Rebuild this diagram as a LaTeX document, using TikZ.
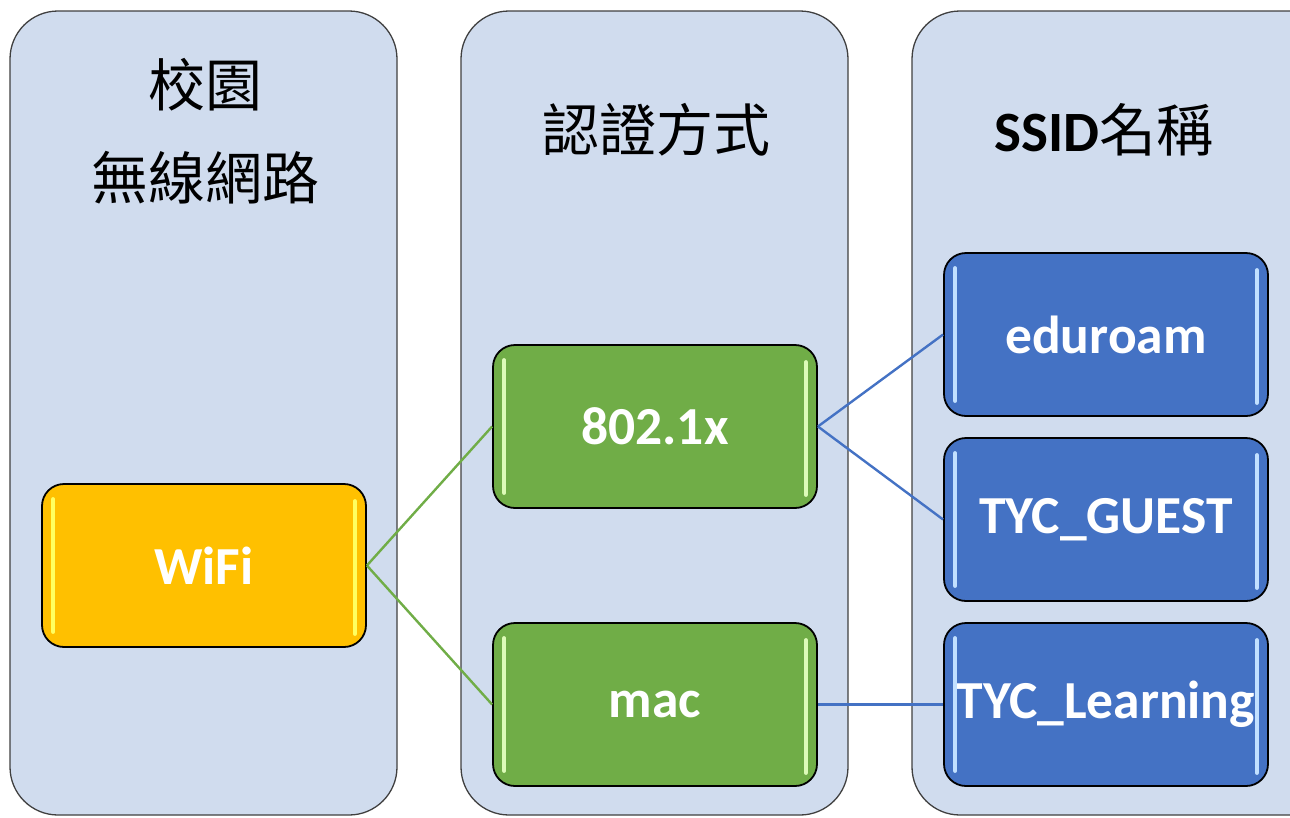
\documentclass[tikz,border=0pt]{standalone}
\usepackage{fontspec}
\setmainfont{Carlito}
\newfontfamily\cjk{Noto Sans CJK TC}
\definecolor{panelfill}{HTML}{D0DCEE}
\definecolor{paneldraw}{HTML}{404040}
\definecolor{wifiorange}{HTML}{FFC000}
\definecolor{wifihl}{HTML}{FFFF60}
\definecolor{authgreen}{HTML}{70AD47}
\definecolor{greenhl}{HTML}{DDFBB8}
\definecolor{ssidblue}{HTML}{4472C4}
\definecolor{bluehl}{HTML}{C2E0FF}
\tikzset{
  panel/.style={fill=panelfill, draw=paneldraw, line width=1.3pt, rounded corners=48pt},
  boxnode/.style={draw=black, line width=1.8pt, rounded corners=22pt,
    minimum width=324pt, minimum height=163pt, inner sep=0pt,
    text=white, font=\bfseries\fontsize{53.5}{64}\selectfont},
  wifibox/.style={boxnode, fill=wifiorange},
  authbox/.style={boxnode, fill=authgreen},
  ssidbox/.style={boxnode, fill=ssidblue},
  title/.style={font=\cjk\fontsize{57}{68}\selectfont, text=black, inner sep=0pt},
  greenlink/.style={draw=authgreen, line width=2.4pt},
  bluelink/.style={draw=ssidblue, line width=2.4pt},
  hl/.style={line width=4pt, line cap=round}
}
\begin{document}
\begin{tikzpicture}[x=1pt, y=-1pt]
\useasboundingbox (0,0) rectangle (1290,817);
% panels
\path[panel] (10,11) rectangle (397,815);
\path[panel] (461,11) rectangle (848,815);
\path[panel] (912,11) rectangle (1345,815);
% titles
\node[title] (t1a) at (205,85) {校園};
\node[title] (t1b) at (205,178) {無線網路};
\node[title] (t2) at (656,130) {認證方式};
\node[title] (t3) at (1104,130) {{\fontspec{Carlito}\bfseries SSID}名稱};
% nodes
\node[wifibox] (wifi) at (204,565.5) {WiFi};
\node[authbox] (dot1x) at (655,426.5) {802.1x};
\node[authbox] (mac) at (655,704.5) {mac};
\node[ssidbox] (edu) at (1106,334.5) {eduroam};
\node[ssidbox] (guest) at (1106,519.5) {TYC\_GUEST};
\node[ssidbox] (learn) at (1106,704.5) {TYC\_Learning};
% highlights
\foreach \n/\c in {wifi/wifihl, dot1x/greenhl, mac/greenhl, edu/bluehl, guest/bluehl, learn/bluehl}{
  \draw[hl, draw=\c] ([xshift=12pt,yshift=-16pt]\n.north west) -- ([xshift=12pt,yshift=16pt]\n.south west);
  \draw[hl, draw=\c] ([xshift=-12pt,yshift=-18pt]\n.north east) -- ([xshift=-12pt,yshift=14pt]\n.south east);
}
% connectors
\draw[greenlink] (wifi.east) -- (dot1x.west);
\draw[greenlink] (wifi.east) -- (mac.west);
\draw[bluelink] (dot1x.east) -- (edu.west);
\draw[bluelink] (dot1x.east) -- (guest.west);
\draw[bluelink] (mac.east) -- (learn.west);
\end{tikzpicture}
\end{document}
